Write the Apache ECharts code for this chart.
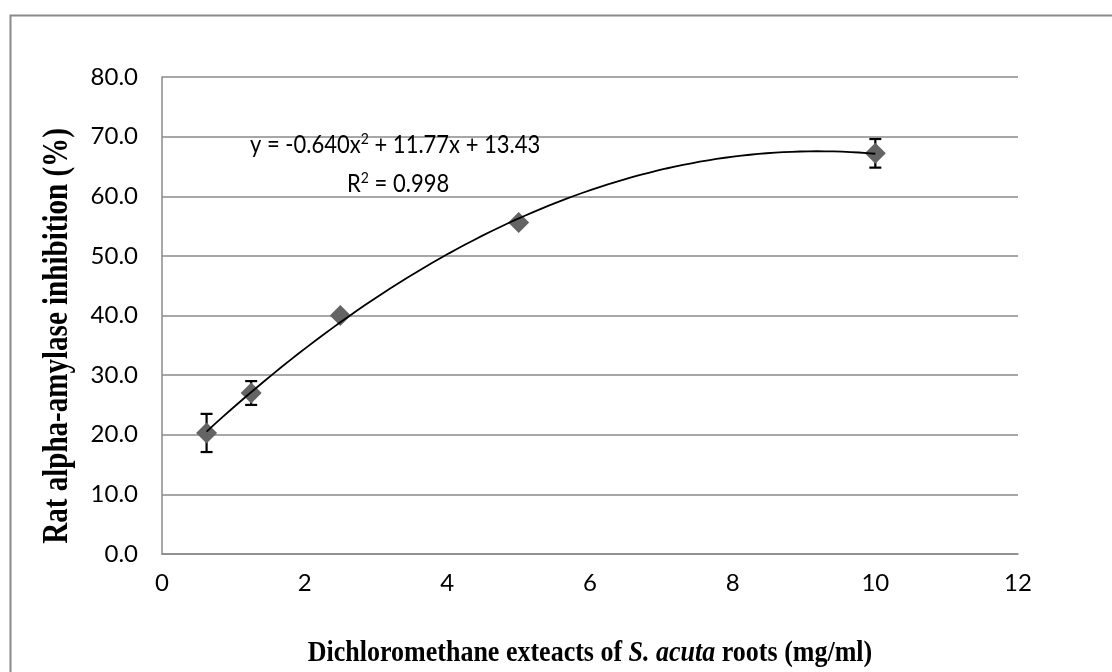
<!DOCTYPE html>
<html><head><meta charset="utf-8">
<script src="https://cdn.jsdelivr.net/npm/echarts@6/dist/echarts.min.js"></script>
<style>html,body{margin:0;padding:0;background:#fff}#c{width:1112px;height:672px}</style>
</head><body><div id="c"></div>
<script>
// Data
var concentrations = [0.625, 1.25, 2.5, 5, 10];
var inhibition = [20.3, 27.0, 40.0, 55.6, 67.2];
var errors = [3.2, 2.0, 0.3, 0.3, 2.4];
// Polynomial trendline as printed on the chart: y = a x^2 + b x + c
var trendCoef = [-0.640, 11.77, 13.43];
var trendRange = [0.625, 10];
var equationParts = ['y = -0.640x', '2', ' + 11.77x + 13.43'];
var r2Parts = ['R', '2', ' = 0.998'];
var xTitleParts = ['Dichloromethane exteacts of ', 'S. acuta', ' roots (mg/ml)'];
var yTitle = 'Rat alpha-amylase inhibition (%)';

var trend = [];
for (var i = 0; i <= 80; i++) {
  var x = trendRange[0] + (trendRange[1] - trendRange[0]) * i / 80;
  trend.push([x, trendCoef[0] * x * x + trendCoef[1] * x + trendCoef[2]]);
}
var pts = concentrations.map(function (x, i) { return [x, inhibition[i]]; });
var errData = concentrations.map(function (x, i) { return [x, inhibition[i] - errors[i], inhibition[i] + errors[i]]; });

var chart = echarts.init(document.getElementById('c'));
var lblFont = 'Lato, "Open Sans", sans-serif';
var serif = '"Liberation Serif", "Times New Roman", serif';
var eqRich = {
  n: { fontFamily: lblFont, fontSize: 22, fill: '#000' },
  s: { fontFamily: lblFont, fontSize: 14, fill: '#000', padding: [0, 0, 10, 0] }
};
chart.setOption({
  animation: false,
  backgroundColor: '#fff',
  grid: { left: 162, right: 94, top: 77, bottom: 118 },
  xAxis: {
    type: 'value', min: 0, max: 12, interval: 2,
    axisLine: { show: true, lineStyle: { color: '#8a8a8a', width: 1.5 } },
    axisTick: { show: false },
    splitLine: { show: false },
    axisLabel: { color: '#000', fontFamily: lblFont, fontSize: 24, margin: 17 }
  },
  yAxis: {
    type: 'value', min: 0, max: 80, interval: 10,
    axisLine: { show: true, lineStyle: { color: '#8a8a8a', width: 1.5 } },
    axisTick: { show: false },
    splitLine: { show: true, lineStyle: { color: '#8a8a8a', width: 1.5 } },
    axisLabel: { color: '#000', fontFamily: lblFont, fontSize: 24, margin: 24,
      formatter: function (v) { return v.toFixed(1); } }
  },
  series: [
    {
      type: 'custom', data: errData, z: 3,
      renderItem: function (params, api) {
        var x = api.value(0);
        var lo = api.coord([x, api.value(1)]);
        var hi = api.coord([x, api.value(2)]);
        var w = 6;
        var st = { stroke: '#000', lineWidth: 2.2 };
        return { type: 'group', children: [
          { type: 'line', shape: { x1: lo[0], y1: lo[1], x2: hi[0], y2: hi[1] }, style: st },
          { type: 'line', shape: { x1: lo[0] - w, y1: lo[1], x2: lo[0] + w, y2: lo[1] }, style: st },
          { type: 'line', shape: { x1: hi[0] - w, y1: hi[1], x2: hi[0] + w, y2: hi[1] }, style: st }
        ]};
      }
    },
    {
      type: 'scatter', data: pts, symbol: 'diamond', symbolSize: [21, 21], z: 4,
      itemStyle: { color: '#646464', opacity: 1 }
    },
    {
      type: 'line', data: trend, showSymbol: false, symbol: 'none', smooth: false,
      lineStyle: { color: '#000', width: 1.8 }, z: 5
    }
  ],
  graphic: [
    { type: 'rect', left: 8, top: 13, shape: { x: 0, y: 0, width: 1120, height: 700 },
      style: { fill: 'none', stroke: '#8a8a8a', lineWidth: 2 }, z: -10, silent: true },
    { type: 'text', x: 250, y: 145, scaleY: 1.15, z: 10, style: {
        text: '{n|' + equationParts[0] + '}{s|' + equationParts[1] + '}{n|' + equationParts[2] + '}',
        rich: eqRich, verticalAlign: 'middle' } },
    { type: 'text', x: 347, y: 184, scaleY: 1.15, z: 10, style: {
        text: '{n|' + r2Parts[0] + '}{s|' + r2Parts[1] + '}{n|' + r2Parts[2] + '}',
        rich: eqRich, verticalAlign: 'middle' } },
    { type: 'text', x: 590, y: 654, scaleY: 1.1, style: {
        text: '{a|' + xTitleParts[0] + '}{b|' + xTitleParts[1] + '}{a|' + xTitleParts[2] + '}',
        align: 'center', verticalAlign: 'middle',
        rich: {
          a: { fontFamily: serif, fontWeight: 'bold', fontSize: 26, fill: '#000' },
          b: { fontFamily: serif, fontWeight: 'bold', fontStyle: 'italic', fontSize: 26, fill: '#000' }
        } } },
    { type: 'text', x: 58, y: 336, rotation: Math.PI / 2, scaleX: 0.83, style: {
        text: yTitle, align: 'center', verticalAlign: 'middle',
        font: 'bold 35px ' + serif, fill: '#000' } }
  ]
});
</script></body></html>
